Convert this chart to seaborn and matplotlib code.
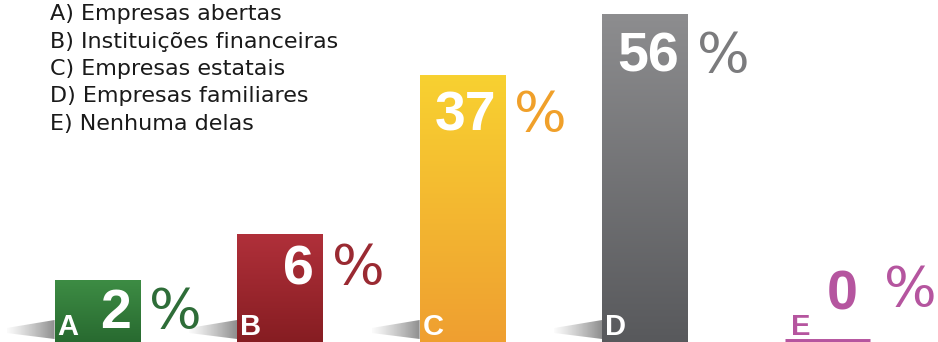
import numpy as np
import matplotlib
matplotlib.use("Agg")
import matplotlib.pyplot as plt
import seaborn as sns
from matplotlib.path import Path
from matplotlib.patches import PathPatch
from matplotlib.colors import to_rgb

# Survey answers and their shares (%)
letters = ["A", "B", "C", "D", "E"]
names = ["Empresas abertas", "Instituições financeiras", "Empresas estatais",
         "Empresas familiares", "Nenhuma delas"]
percent = [2, 6, 37, 56, 0]

# Bar shading (top -> bottom) and colour of each "%" sign
top_colors = ["#3d8c44", "#b0303a", "#f8d131", "#8d8d8f", "#b2559f"]
bottom_colors = ["#286a30", "#861d22", "#ef9f30", "#58595c", "#b2559f"]
label_colors = ["#2e6d38", "#9a2a32", "#f0a02a", "#7b7b7d", "#b5559f"]

sns.set_theme(style="white")
plt.rcParams["font.family"] = ["Liberation Sans", "DejaVu Sans"]

W, H = 938, 342
fig = plt.figure(figsize=(W / 100, H / 100), dpi=100)
ax = fig.add_axes([0, 0, 1, 1])
sns.barplot(x=letters, y=percent, hue=letters, palette=top_colors,
            width=0.47, saturation=1, legend=False, ax=ax)

# square-root value axis so the small shares stay readable
ax.set_yscale("function", functions=(
    lambda v: np.sqrt(np.clip(v, 0, None)),
    lambda u: np.square(np.clip(u, 0, None))))
ax.set_ylim(0, 61.0)
ax.set_xlim(-0.534, 4.605)
ax.axis("off")

# pixel-space overlay for shading, shadows and labels
ov = fig.add_axes([0, 0, 1, 1], zorder=2)
ov.patch.set_alpha(0)
ov.axis("off")

NUM_PT = 40
CAP = 0.716 * NUM_PT * 100 / 72  # cap height of the value digits in px

bars = [b for c in ax.containers for b in c]
for i, bar in enumerate(bars):
    bb = bar.get_window_extent()
    x0, x1, y0, y1 = bb.x0, bb.x1, bb.y0, bb.y1
    col = label_colors[i]
    if percent[i] > 0:
        # vertical gradient over the bar
        t = np.array(to_rgb(top_colors[i]))
        b = np.array(to_rgb(bottom_colors[i]))
        f = np.linspace(0, 1, 200)[:, None]
        grad = (t * (1 - f) + b * f)[:, None, :]
        ov.imshow(grad, extent=(x0, x1, y0, y1), aspect="auto",
                  origin="upper", interpolation="bilinear", zorder=2)
        # soft cast shadow to the left of the bar foot
        sh_w = 48
        poly = Path([(x0, 3), (x0 - sh_w, 9), (x0 - sh_w, 14), (x0, 22), (x0, 3)])
        clip = PathPatch(poly, transform=ov.transData, facecolor="none", edgecolor="none")
        ov.add_patch(clip)
        rgba = np.zeros((1, 100, 4))
        rgba[..., :3] = 0.42
        rgba[0, :, 3] = np.linspace(0.05, 0.8, 100) ** 1.2
        im = ov.imshow(rgba, extent=(x0 - sh_w, x0, 0, 24), aspect="auto",
                       interpolation="bilinear", zorder=1)
        im.set_clip_path(clip)
        # value inside the bar, "%" to its right, letter at the foot
        h = y1 - y0
        base = y1 - (6 + 0.035 * h) - CAP
        ov.text(x1 - 9, base, f"{percent[i]}", ha="right", va="baseline",
                color="white", fontsize=NUM_PT, fontweight="bold", zorder=3)
        ov.text(x1 + 9, base, "%", ha="left", va="baseline", family="DejaVu Sans",
                color=col, fontsize=NUM_PT, zorder=3)
        ov.text(x0 + 3, 7, letters[i], ha="left", va="baseline",
                color="white", fontsize=21, fontweight="bold", zorder=3)
    else:
        # empty share: thin base line with the value above it
        bar.set_edgecolor(col)
        bar.set_linewidth(5)
        ov.text(x1 - 13, 32, f"{percent[i]}", ha="right", va="baseline",
                color=col, fontsize=NUM_PT, fontweight="bold", zorder=3)
        ov.text(x1 + 14, 36, "%", ha="left", va="baseline", family="DejaVu Sans",
                color=col, fontsize=NUM_PT, zorder=3)
        ov.text(x0 + 6, 7, letters[i], ha="left", va="baseline",
                color=col, fontsize=21, fontweight="bold", zorder=3)

# answer key in the upper left
for k, (let, name) in enumerate(zip(letters, names)):
    ov.text(50, H - 20 - 27.5 * k, f"{let}) {name}", ha="left", va="baseline",
            family="DejaVu Sans", color="#1a1a1a", fontsize=16, zorder=3)

ov.set_xlim(0, W)
ov.set_ylim(0, H)
fig.savefig("out.png", dpi=100)
